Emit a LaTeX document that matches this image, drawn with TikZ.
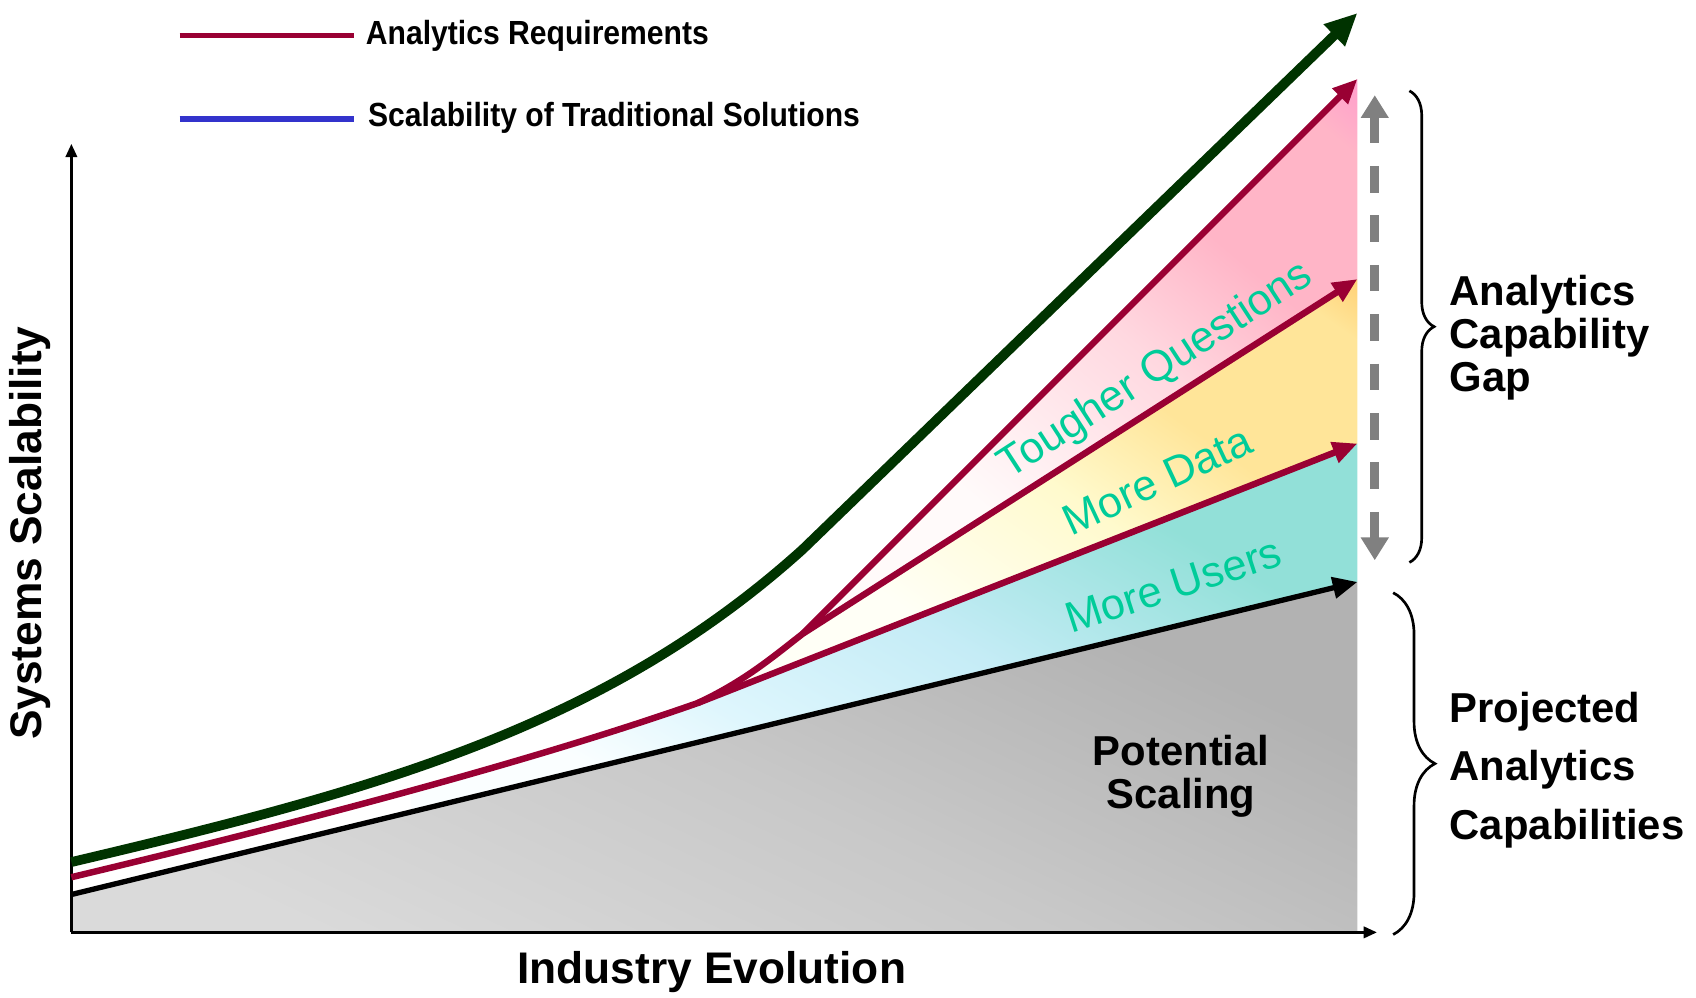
\documentclass[tikz,border=0pt]{standalone}
\usepackage{fontspec}
\setmainfont{Liberation Sans}
\newfontfamily\narrowsans{Liberation Sans}[FakeStretch=0.9]
\usetikzlibrary{arrows.meta,decorations.pathreplacing}
\definecolor{reqred}{RGB}{153,0,51}
\definecolor{tradblue}{RGB}{51,51,204}
\definecolor{capgreen}{RGB}{0,51,0}
\definecolor{labteal}{RGB}{0,204,153}
\definecolor{arrgray}{RGB}{128,128,128}
\definecolor{gA}{RGB}{218,218,218}
\definecolor{gB}{RGB}{200,200,200}
\definecolor{gC}{RGB}{178,178,178}
\definecolor{bW}{RGB}{250,254,255}
\definecolor{bA}{RGB}{222,246,253}
\definecolor{bB}{RGB}{197,236,246}
\definecolor{bC}{RGB}{146,224,216}
\definecolor{yA}{RGB}{255,255,246}
\definecolor{yB}{RGB}{255,250,205}
\definecolor{yC}{RGB}{255,229,153}
\definecolor{yD}{RGB}{255,204,110}
\definecolor{pA}{RGB}{255,250,250}
\definecolor{pB}{RGB}{255,216,224}
\definecolor{pC}{RGB}{255,181,199}
\definecolor{pD}{RGB}{255,155,205}
\pgfdeclarehorizontalshading{grayshade}{100bp}{color(0bp)=(gA); color(25bp)=(gA); color(50bp)=(gB); color(72bp)=(gC); color(100bp)=(gC)}
\pgfdeclarehorizontalshading{blueshade}{100bp}{color(0bp)=(bW); color(27bp)=(bW); color(37bp)=(bA); color(52bp)=(bB); color(70bp)=(bC); color(100bp)=(bC)}
\pgfdeclarehorizontalshading{yellowshade}{100bp}{color(0bp)=(yA); color(34bp)=(yA); color(52bp)=(yB); color(64bp)=(yC); color(80bp)=(yC); color(86bp)=(yD); color(100bp)=(yD)}
\pgfdeclarehorizontalshading{pinkshade}{100bp}{color(0bp)=(pA); color(34bp)=(pA); color(54bp)=(pB); color(66bp)=(pC); color(80bp)=(pC); color(86bp)=(pD); color(100bp)=(pD)}
\begin{document}
\begin{tikzpicture}[x=0.02cm,y=-0.02cm,
  axisline/.style={line width=1.4pt,-{Triangle[length=7pt,width=6pt]}},
  greenline/.style={capgreen,line width=5.1pt,-{Triangle[length=17pt,width=15pt]}},
  redline/.style={reqred,line width=3.4pt,-{Triangle[length=13pt,width=11pt]}},
  blackline/.style={black,line width=2.8pt,-{Triangle[length=13pt,width=11pt]}},
  gaparrow/.style={arrgray,line width=4.5pt,dash pattern=on 14pt off 12pt,{Triangle[length=12pt,width=14pt]}-{Triangle[length=12pt,width=14pt]}},
  bracestyle/.style={line width=1.4pt,decorate},
  legtxt/.style={font=\narrowsans\bfseries\fontsize{17.6}{20}\selectfont,anchor=west,inner sep=0pt},
  bigtxt/.style={font=\bfseries\fontsize{22}{22.7}\selectfont,anchor=west,align=left,inner sep=0pt},
  projtxt/.style={font=\bfseries\fontsize{22}{31}\selectfont,anchor=west,align=left,inner sep=0pt},
  axtxt/.style={font=\bfseries\fontsize{23.3}{26}\selectfont,inner sep=0pt},
  tealtxt/.style={font=\fontsize{22.8}{25}\selectfont,text=labteal,inner sep=0pt}
]
\useasboundingbox (0,0) rectangle (1568,922);

% key coordinates
\coordinate (orig) at (66,862);
\coordinate (ytip) at (66,133);
\coordinate (xtip) at (1273,862);
\coordinate (gs) at (66,797);
\coordinate (gk) at (742,508);
\coordinate (ge) at (1255,12);
\coordinate (rs) at (66,811);
\coordinate (j1) at (645,650);
\coordinate (s1) at (742,586);
\coordinate (eu) at (1255,73);
\coordinate (ed) at (1255,258);
\coordinate (el) at (1255,410);
\coordinate (bs) at (66,827);
\coordinate (be) at (1255,538);

% filled regions
\path[shading=grayshade,shading angle=65] (bs) -- (be) -- (1255,862) -- (orig) -- cycle;
\path[shading=blueshade,shading angle=60] (380,752) -- (be) -- (el) -- (j1) .. controls (560,680) and (480,705) .. (380,732) -- cycle;
\path[shading=yellowshade,shading angle=55] (j1) -- (el) -- (ed) -- (s1) .. controls (715,607) and (688,630) .. (j1) -- cycle;
\path[shading=pinkshade,shading angle=50] (s1) -- (ed) -- (eu) -- cycle;

% axes
\draw[axisline] (orig) -- (ytip);
\draw[axisline] (orig) -- (xtip);

% curves
\draw[blackline] (bs) -- (be);
\draw[redline] (rs) .. controls (250,767) and (480,708) .. (j1) -- (el);
\draw[redline] (j1) .. controls (688,630) and (715,607) .. (s1) -- (ed);
\draw[redline] (s1) -- (eu);
\draw[greenline] (gs) .. controls (350,730) and (560,672) .. (gk) -- (ge);

% gap arrow
\coordinate (gt) at (1271,88);
\coordinate (gb) at (1271,518);
\draw[gaparrow] (gt) -- (gb);

% braces
\draw[bracestyle,decoration={brace,amplitude=13pt}] (1303,84) -- (1303,520);
\draw[bracestyle,decoration={brace,amplitude=22pt}] (1288,548) -- (1288,864);

% legend
\coordinate (la1) at (166,33);
\coordinate (la2) at (327,33);
\coordinate (lb1) at (166,110);
\coordinate (lb2) at (327,110);
\draw[reqred,line width=2.8pt] (la1) -- (la2);
\draw[tradblue,line width=2.8pt] (lb1) -- (lb2);
\node[legtxt] (leg1) at (338,33) {Analytics Requirements};
\node[legtxt] (leg2) at (340,109) {Scalability of Traditional Solutions};

% labels
\node[axtxt,rotate=90] (ylab) at (28,493) {Systems Scalability};
\node[axtxt] (xlab) at (658,899) {Industry Evolution};
\node[axtxt,align=center,font=\bfseries\fontsize{22}{22.7}\selectfont] (pot) at (1092,718) {Potential\\Scaling};
\node[bigtxt] (gap) at (1340,312) {Analytics\\Capability\\Gap};
\node[projtxt] (proj) at (1340,712) {Projected\\Analytics\\Capabilities};
\node[tealtxt,rotate=33] (tq) at (1069,343) {Tougher Questions};
\node[tealtxt,rotate=25] (md) at (1070,444) {More Data};
\node[tealtxt,rotate=18] (mu) at (1085,541) {More Users};
\end{tikzpicture}
\end{document}
